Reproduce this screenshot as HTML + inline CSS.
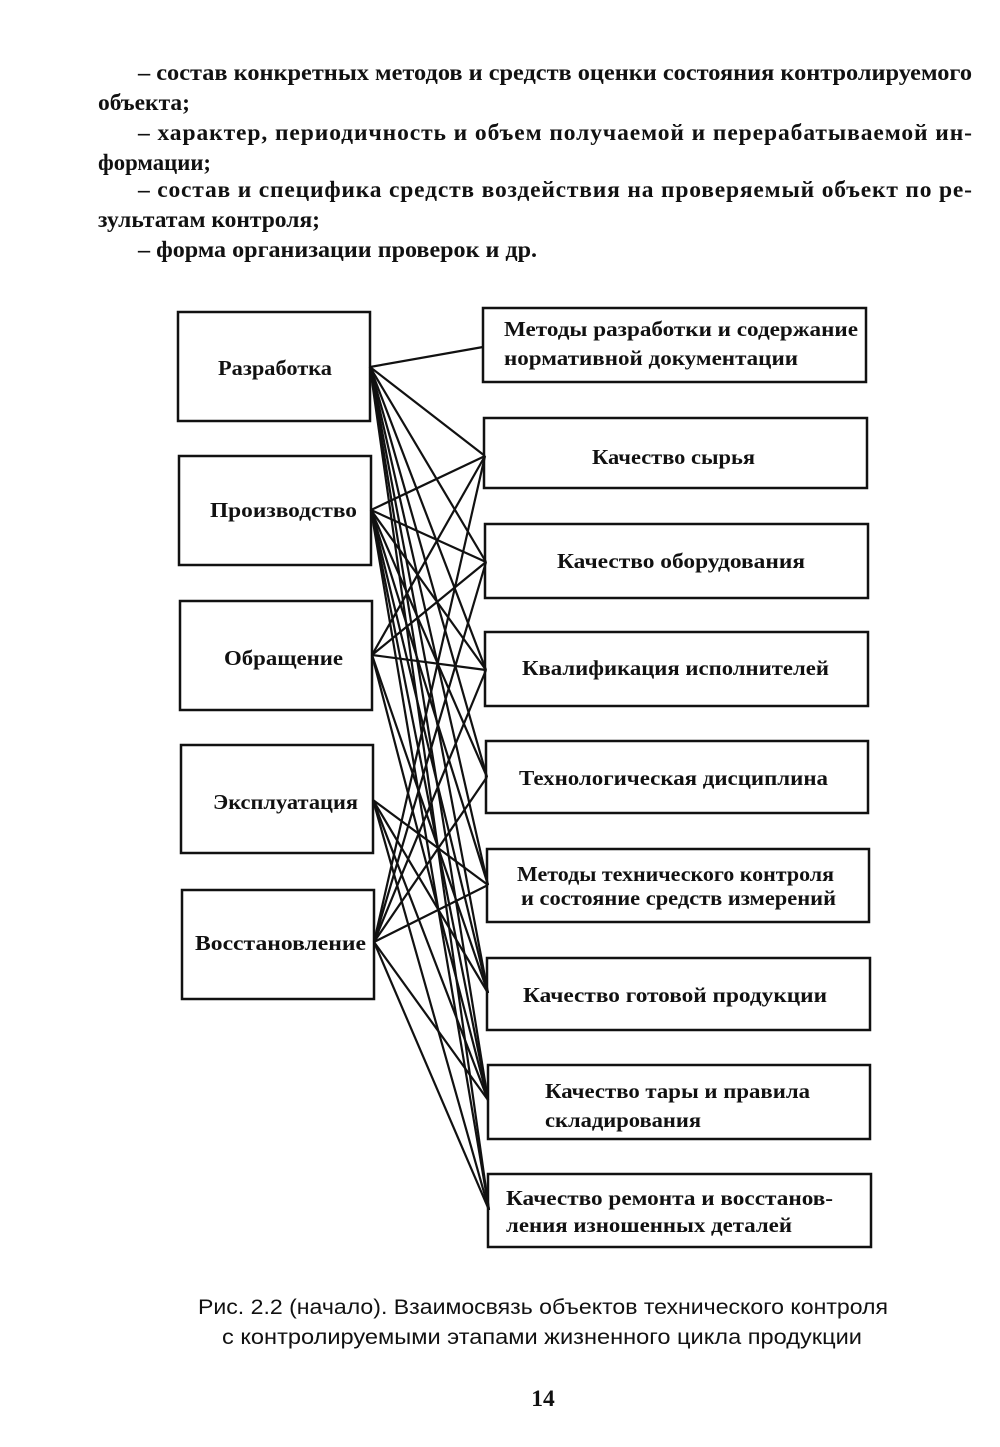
<!DOCTYPE html>
<html><head><meta charset="utf-8"><style>
html,body{margin:0;padding:0;background:#fff;}
svg{display:block}
.t{font-family:"Liberation Serif",serif;font-weight:bold;font-size:23.5px;fill:#111}
.b{font-family:"Liberation Serif",serif;font-weight:bold;font-size:21px;fill:#111}
.c{font-family:"Liberation Sans",sans-serif;font-size:21px;fill:#111}
rect{fill:none;stroke:#111;stroke-width:2.5}
line{stroke:#111;stroke-width:2.2}
</style></head><body>
<svg width="1000" height="1447" viewBox="0 0 1000 1447">
<text class="t" x="138" y="80" textLength="834" lengthAdjust="spacingAndGlyphs">– состав конкретных методов и средств оценки состояния контролируемого</text>
<text class="t" x="98" y="110" textLength="92" lengthAdjust="spacingAndGlyphs">объекта;</text>
<text class="t" x="138" y="140" textLength="834" lengthAdjust="spacing">– характер, периодичность и объем получаемой и перерабатываемой ин-</text>
<text class="t" x="98" y="170" textLength="113" lengthAdjust="spacingAndGlyphs">формации;</text>
<text class="t" x="138" y="197" textLength="834" lengthAdjust="spacing">– состав и специфика средств воздействия на проверяемый объект по ре-</text>
<text class="t" x="98" y="227" textLength="222" lengthAdjust="spacingAndGlyphs">зультатам контроля;</text>
<text class="t" x="138" y="257" textLength="399" lengthAdjust="spacingAndGlyphs">– форма организации проверок и др.</text>

<rect x="178" y="312" width="192" height="109"/>
<rect x="179" y="456" width="192" height="109"/>
<rect x="180" y="601" width="192" height="109"/>
<rect x="181" y="745" width="192" height="108"/>
<rect x="182" y="890" width="192" height="109"/>
<text class="b" x="218" y="375" textLength="114" lengthAdjust="spacingAndGlyphs">Разработка</text>
<text class="b" x="210" y="517" textLength="147" lengthAdjust="spacingAndGlyphs">Производство</text>
<text class="b" x="224" y="665" textLength="119" lengthAdjust="spacingAndGlyphs">Обращение</text>
<text class="b" x="213" y="809" textLength="145" lengthAdjust="spacingAndGlyphs">Эксплуатация</text>
<text class="b" x="195" y="950" textLength="171" lengthAdjust="spacingAndGlyphs">Восстановление</text>

<rect x="483" y="308" width="383" height="74"/>
<rect x="484" y="418" width="383" height="70"/>
<rect x="485" y="524" width="383" height="74"/>
<rect x="485" y="632" width="383" height="74"/>
<rect x="486" y="741" width="382" height="72"/>
<rect x="487" y="849" width="382" height="73"/>
<rect x="487" y="958" width="383" height="72"/>
<rect x="488" y="1065" width="382" height="74"/>
<rect x="488" y="1174" width="383" height="73"/>
<text class="b" x="504" y="336" textLength="354" lengthAdjust="spacingAndGlyphs">Методы разработки и содержание</text>
<text class="b" x="504" y="365" textLength="294" lengthAdjust="spacingAndGlyphs">нормативной документации</text>
<text class="b" x="592" y="464" textLength="163" lengthAdjust="spacingAndGlyphs">Качество сырья</text>
<text class="b" x="557" y="568" textLength="248" lengthAdjust="spacingAndGlyphs">Качество оборудования</text>
<text class="b" x="522" y="675" textLength="307" lengthAdjust="spacingAndGlyphs">Квалификация исполнителей</text>
<text class="b" x="519" y="785" textLength="309" lengthAdjust="spacingAndGlyphs">Технологическая дисциплина</text>
<text class="b" x="517" y="881" textLength="317" lengthAdjust="spacingAndGlyphs">Методы технического контроля</text>
<text class="b" x="521" y="905" textLength="315" lengthAdjust="spacingAndGlyphs">и состояние средств измерений</text>
<text class="b" x="523" y="1002" textLength="304" lengthAdjust="spacingAndGlyphs">Качество готовой продукции</text>
<text class="b" x="545" y="1098" textLength="265" lengthAdjust="spacingAndGlyphs">Качество тары и правила</text>
<text class="b" x="545" y="1127" textLength="156" lengthAdjust="spacingAndGlyphs">складирования</text>
<text class="b" x="506" y="1205" textLength="327" lengthAdjust="spacingAndGlyphs">Качество ремонта и восстанов-</text>
<text class="b" x="506" y="1232" textLength="286" lengthAdjust="spacingAndGlyphs">ления изношенных деталей</text>

<g>
<line x1="370" y1="367" x2="483" y2="347"/>
<line x1="370" y1="367" x2="485" y2="456"/>
<line x1="370" y1="367" x2="486" y2="562"/>
<line x1="370" y1="367" x2="486" y2="670"/>
<line x1="370" y1="367" x2="487" y2="777"/>
<line x1="370" y1="367" x2="488" y2="885"/>
<line x1="370" y1="367" x2="488" y2="993"/>
<line x1="370" y1="367" x2="488" y2="1100"/>
<line x1="370" y1="367" x2="489" y2="1210"/>
<line x1="371" y1="510" x2="485" y2="456"/>
<line x1="371" y1="510" x2="486" y2="562"/>
<line x1="371" y1="510" x2="486" y2="670"/>
<line x1="371" y1="510" x2="487" y2="777"/>
<line x1="371" y1="510" x2="488" y2="885"/>
<line x1="371" y1="510" x2="488" y2="993"/>
<line x1="371" y1="510" x2="488" y2="1100"/>
<line x1="371" y1="510" x2="489" y2="1210"/>
<line x1="372" y1="655" x2="485" y2="456"/>
<line x1="372" y1="655" x2="486" y2="562"/>
<line x1="372" y1="655" x2="486" y2="670"/>
<line x1="372" y1="655" x2="488" y2="993"/>
<line x1="372" y1="655" x2="488" y2="1100"/>
<line x1="373" y1="800" x2="488" y2="885"/>
<line x1="373" y1="800" x2="488" y2="993"/>
<line x1="373" y1="800" x2="488" y2="1100"/>
<line x1="373" y1="800" x2="489" y2="1210"/>
<line x1="374" y1="942" x2="485" y2="456"/>
<line x1="374" y1="942" x2="486" y2="562"/>
<line x1="374" y1="942" x2="486" y2="670"/>
<line x1="374" y1="942" x2="487" y2="777"/>
<line x1="374" y1="942" x2="488" y2="885"/>
<line x1="374" y1="942" x2="488" y2="1100"/>
<line x1="374" y1="942" x2="489" y2="1210"/>
</g>

<text class="c" x="198" y="1314" textLength="690" lengthAdjust="spacingAndGlyphs">Рис. 2.2 (начало). Взаимосвязь объектов технического контроля</text>
<text class="c" x="222" y="1344" textLength="640" lengthAdjust="spacingAndGlyphs">с контролируемыми этапами жизненного цикла продукции</text>
<text class="t" x="543" y="1406" text-anchor="middle">14</text>
</svg>
</body></html>
